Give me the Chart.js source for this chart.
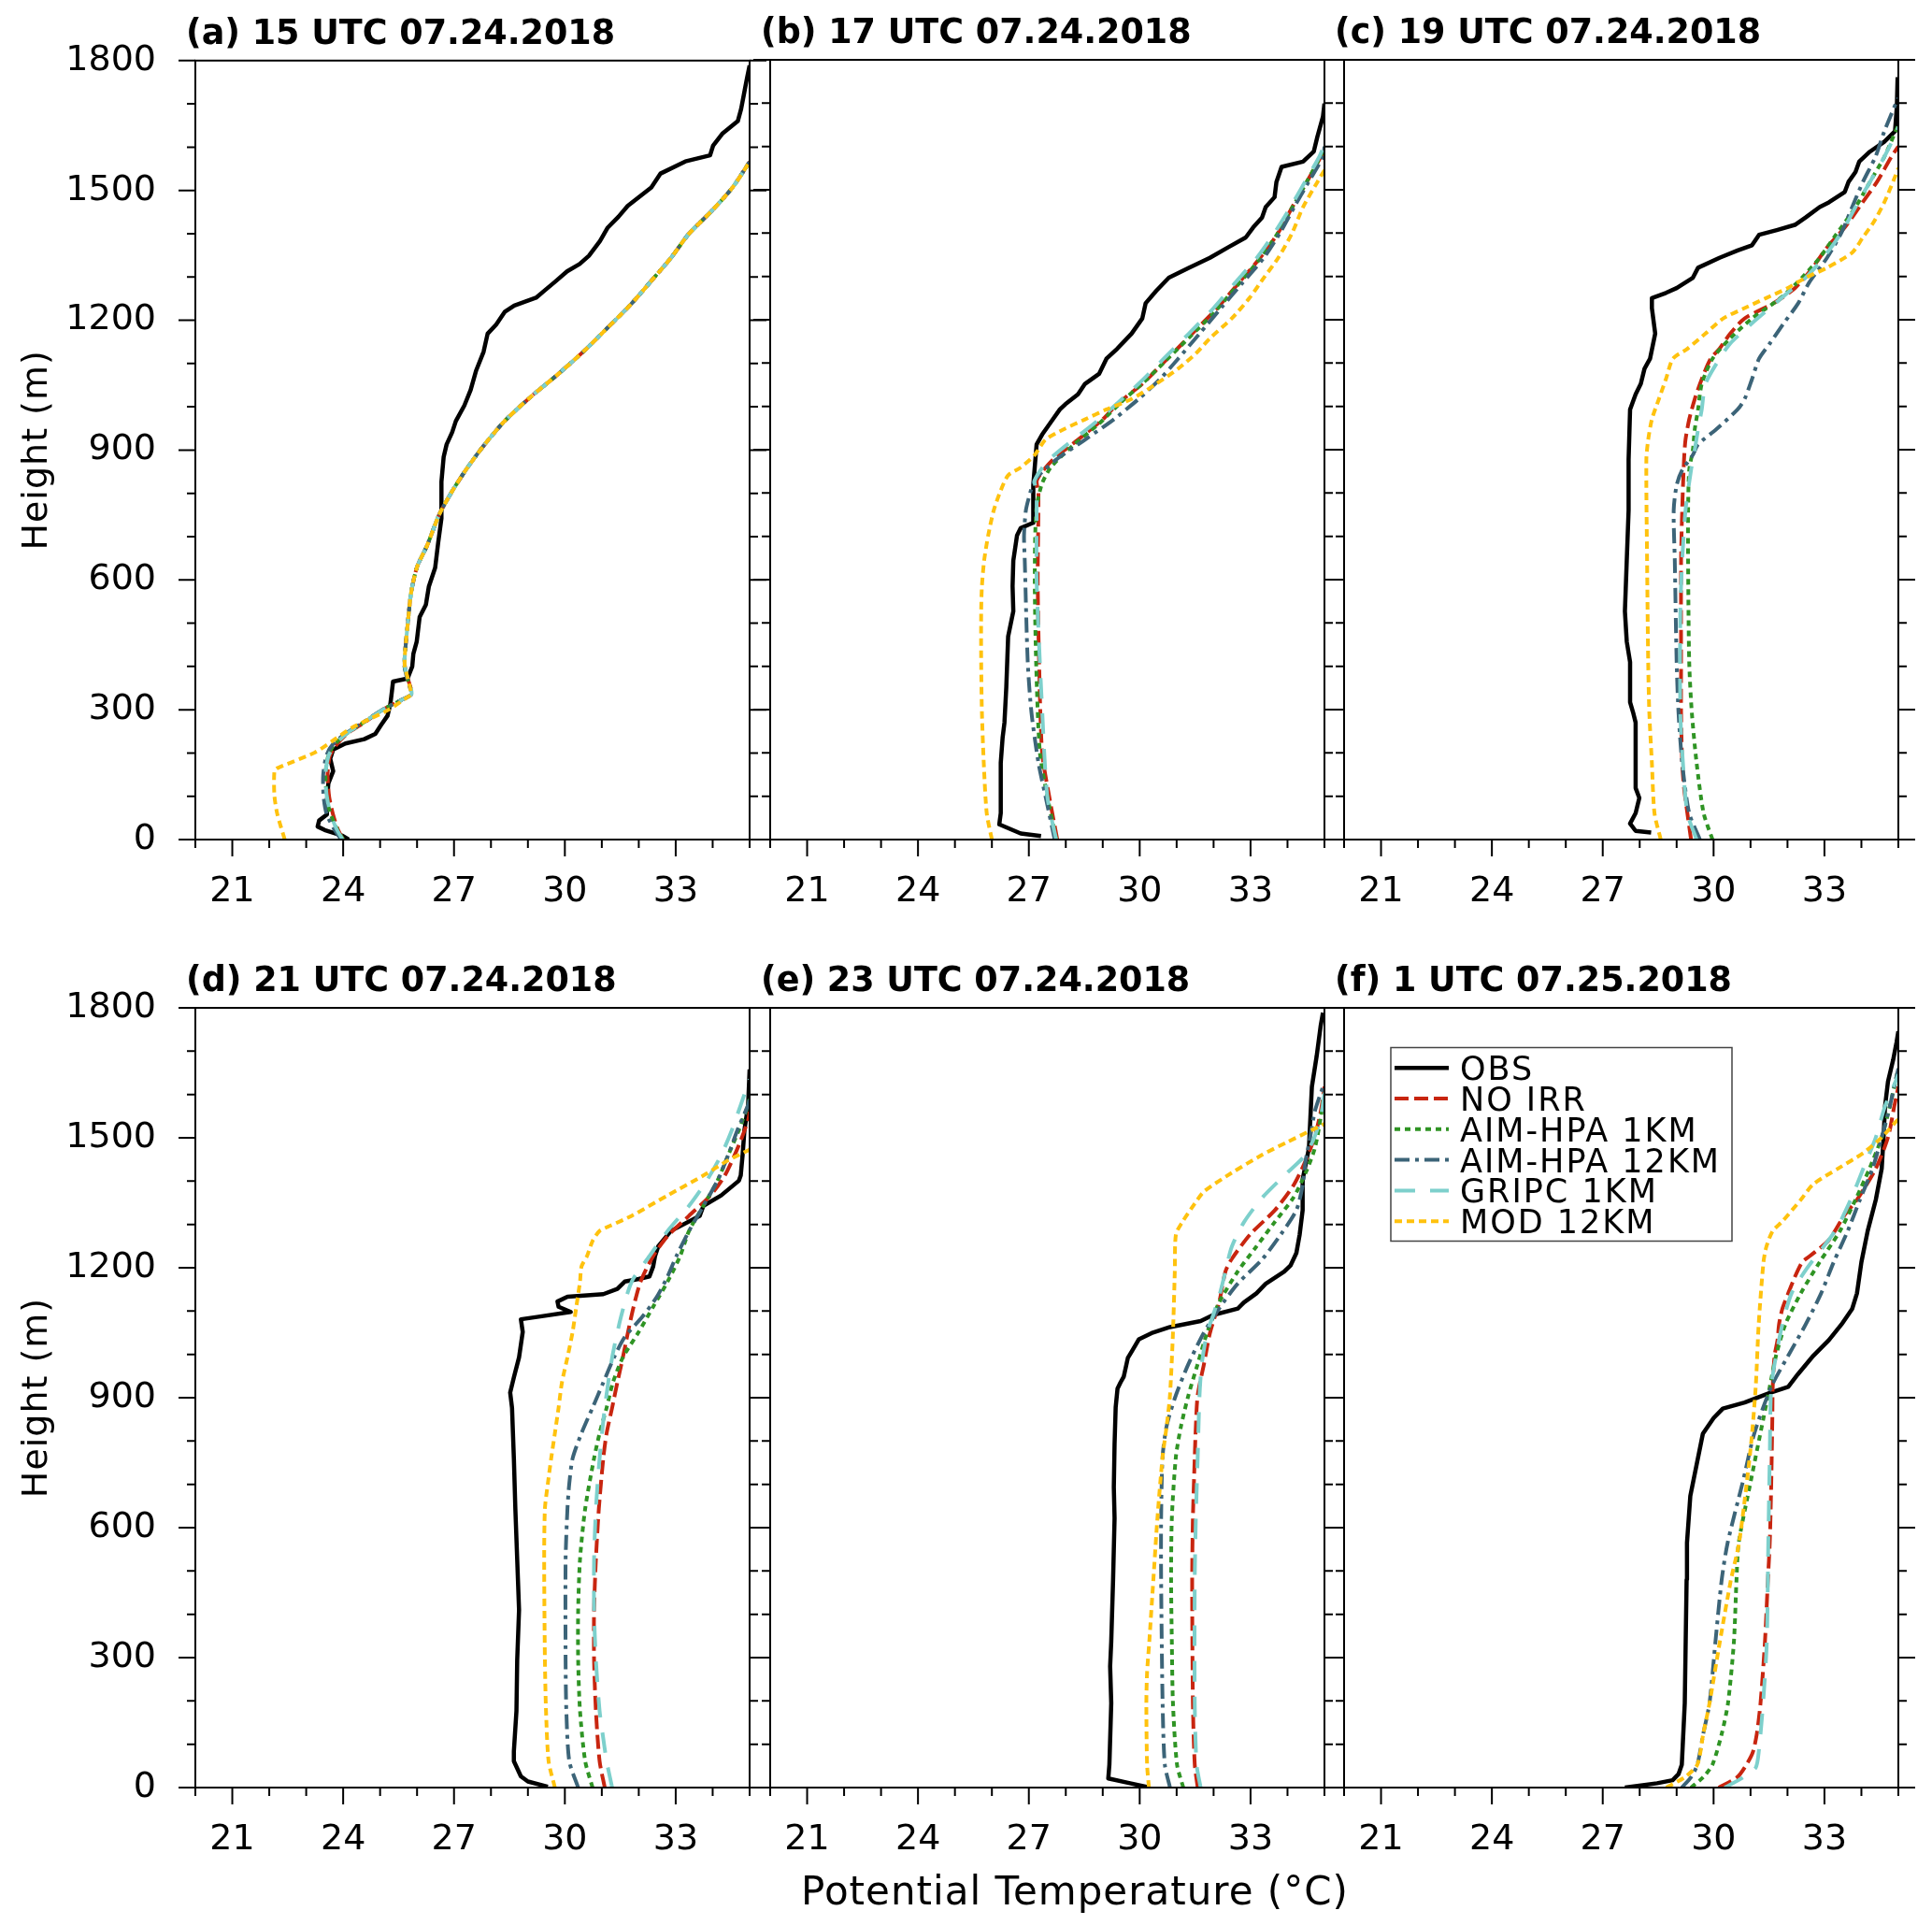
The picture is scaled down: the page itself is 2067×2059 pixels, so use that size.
<!DOCTYPE html>
<html><head><meta charset="utf-8">
<script src="https://cdn.jsdelivr.net/npm/chart.js@4.4.1/dist/chart.umd.min.js"></script>
<style>
html,body{margin:0;padding:0;background:#fff;}
#wrap{position:relative;width:2067px;height:2059px;overflow:hidden;background:#fff;}
#wrap canvas{position:absolute;left:0;top:0;}
</style></head><body><div id="wrap"></div>
<script>
// ---------- labels ----------
const seriesNames = ['OBS','NO IRR','AIM-HPA 1KM','AIM-HPA 12KM','GRIPC 1KM','MOD 12KM'];
const panelTitles = ['(a) 15 UTC 07.24.2018','(b) 17 UTC 07.24.2018','(c) 19 UTC 07.24.2018',
                     '(d) 21 UTC 07.24.2018','(e) 23 UTC 07.24.2018','(f) 1 UTC 07.25.2018'];
const xTickValues = [21,24,27,30,33];
const yTickValues = [0,300,600,900,1200,1500,1800];
const xTitle = 'Potential Temperature (\u00B0C)';
const yTitle = 'Height (m)';

// ---------- data: [potential temperature (°C), height (m)] ----------
// (a) 15 UTC
const a_OBS = [[24.15,0],[23.98,9],[23.5,22],[23.31,30],[23.35,44],[23.56,58],[23.56,87],[23.6,130],[23.73,158],[23.65,187],[23.73,208],[24.06,222],[24.57,232],[24.87,244],[25.03,265],[25.2,286],[25.28,315],[25.32,343],[25.35,365],[25.74,372],[25.87,400],[25.9,429],[25.99,457],[26.07,514],[26.24,543],[26.32,585],[26.49,628],[26.57,685],[26.66,742],[26.66,827],[26.72,884],[26.8,913],[26.95,941],[27.05,967],[27.28,1003],[27.45,1039],[27.6,1084],[27.8,1127],[27.91,1169],[28.14,1190],[28.37,1219],[28.63,1234],[29.22,1252],[29.47,1270],[29.75,1290],[30.06,1313],[30.4,1330],[30.65,1349],[30.95,1383],[31.16,1414],[31.45,1439],[31.7,1464],[32.34,1507],[32.59,1539],[33.26,1567],[33.93,1581],[34.01,1603],[34.26,1631],[34.68,1660],[34.77,1688],[34.85,1724],[34.93,1760],[35.0,1789]];
const a_NOIRR = [[24.0,0],[23.85,25],[23.72,60],[23.62,100],[23.58,150],[23.63,190],[23.78,215],[24.1,244],[24.6,272],[25.07,300],[25.57,322],[25.85,336],[25.75,372],[25.67,400],[25.67,427],[25.75,500],[25.84,571],[26.0,630],[26.27,679],[26.6,751],[26.95,805],[27.36,859],[27.83,913],[28.37,967],[29.05,1021],[29.81,1075],[30.52,1129],[31.16,1183],[31.79,1237],[32.34,1291],[32.88,1345],[33.35,1399],[33.98,1453],[34.53,1506],[35.0,1566]];
const a_AIM1 = [[24.0,0],[23.8,30],[23.62,70],[23.55,110],[23.52,150],[23.6,195],[23.75,218],[24.08,244],[24.58,272],[25.07,300],[25.57,322],[25.84,336],[25.74,372],[25.66,400],[25.67,427],[25.75,500],[25.84,571],[26.0,630],[26.27,679],[26.6,751],[26.95,805],[27.36,859],[27.83,913],[28.37,967],[29.05,1021],[29.81,1075],[30.52,1129],[31.16,1183],[31.79,1237],[32.34,1291],[32.88,1345],[33.35,1399],[33.98,1453],[34.53,1506],[35.0,1566]];
const a_AIM12 = [[23.95,0],[23.75,25],[23.55,60],[23.47,100],[23.46,150],[23.55,195],[23.72,220],[24.05,244],[24.56,272],[25.06,300],[25.56,322],[25.83,336],[25.73,372],[25.66,400],[25.67,427],[25.75,500],[25.84,571],[26.0,630],[26.27,679],[26.6,751],[26.95,805],[27.36,859],[27.83,913],[28.37,967],[29.05,1021],[29.81,1075],[30.52,1129],[31.16,1183],[31.79,1237],[32.34,1291],[32.88,1345],[33.35,1399],[33.98,1453],[34.53,1506],[35.0,1566]];
const a_GRIPC = [[23.98,0],[23.8,28],[23.64,65],[23.55,105],[23.52,150],[23.6,192],[23.76,217],[24.08,244],[24.58,272],[25.07,300],[25.57,322],[25.85,336],[25.75,372],[25.67,400],[25.67,427],[25.75,500],[25.84,571],[26.0,630],[26.27,679],[26.6,751],[26.95,805],[27.36,859],[27.83,913],[28.37,967],[29.05,1021],[29.81,1075],[30.52,1129],[31.16,1183],[31.79,1237],[32.34,1291],[32.88,1345],[33.35,1399],[33.98,1453],[34.53,1506],[35.0,1566]];
const a_MOD = [[22.42,0],[22.22,58],[22.14,101],[22.14,158],[22.22,165],[23.23,201],[23.73,229],[24.23,258],[24.73,279],[25.23,300],[25.74,329],[25.84,336],[25.75,372],[25.67,400],[25.67,427],[25.75,500],[25.84,571],[26.0,630],[26.27,679],[26.6,751],[26.95,805],[27.36,859],[27.83,913],[28.37,967],[29.05,1021],[29.81,1075],[30.52,1129],[31.16,1183],[31.79,1237],[32.34,1291],[32.88,1345],[33.35,1399],[33.98,1453],[34.53,1506],[35.0,1566]];

// (b) 17 UTC
const b_OBS = [[27.33,8],[26.78,14],[26.2,35],[26.24,61],[26.24,177],[26.29,235],[26.34,270],[26.39,352],[26.44,469],[26.58,527],[26.56,585],[26.58,644],[26.68,702],[26.78,719],[27.11,731],[27.11,760],[27.13,818],[27.21,912],[27.36,935],[27.65,970],[27.84,993],[27.99,1005],[28.33,1028],[28.52,1052],[28.9,1075],[29.1,1110],[29.39,1133],[29.78,1168],[30.07,1203],[30.16,1238],[30.45,1267],[30.79,1297],[31.33,1320],[31.9,1343],[32.39,1367],[32.87,1390],[33.07,1413],[33.31,1436],[33.41,1460],[33.65,1483],[33.7,1518],[33.84,1553],[34.42,1565],[34.71,1588],[34.81,1623],[34.96,1669],[35.0,1699]];
const b_NOIRR = [[27.77,0],[27.55,100],[27.36,200],[27.28,400],[27.24,600],[27.26,800],[27.22,830],[27.65,877],[28.33,923],[29.0,970],[29.39,1005],[30.07,1052],[30.75,1110],[31.42,1168],[32.1,1227],[32.68,1285],[33.26,1343],[33.75,1401],[34.13,1460],[34.52,1518],[34.9,1576],[35.0,1595]];
const b_AIM1 = [[27.74,0],[27.5,100],[27.3,200],[27.2,400],[27.16,600],[27.2,760],[27.35,820],[27.6,860],[28.2,910],[28.9,960],[29.5,1010],[30.1,1055],[30.7,1105],[31.35,1160],[32.0,1215],[32.6,1275],[33.2,1335],[33.7,1395],[34.1,1455],[34.5,1515],[34.88,1575],[35.0,1600]];
const b_AIM12 = [[27.7,0],[27.45,100],[27.26,177],[27.07,294],[26.97,410],[26.89,644],[26.87,702],[26.92,760],[27.02,795],[27.16,830],[27.74,877],[28.52,923],[29.3,970],[29.97,1017],[30.55,1063],[31.04,1110],[31.62,1168],[32.2,1227],[32.78,1285],[33.36,1343],[33.8,1401],[34.18,1460],[34.57,1518],[34.96,1576],[35.0,1600]];
const b_GRIPC = [[27.74,0],[27.5,100],[27.36,300],[27.21,600],[27.21,800],[27.16,830],[27.55,877],[28.9,970],[29.97,1052],[30.65,1110],[31.33,1168],[32.0,1227],[32.58,1285],[33.17,1343],[33.65,1401],[34.08,1460],[34.47,1518],[34.86,1576],[35.0,1605]];
const b_MOD = [[26.0,0],[25.86,61],[25.78,177],[25.73,294],[25.71,410],[25.71,527],[25.73,585],[25.79,644],[25.9,702],[26.05,760],[26.24,806],[26.44,841],[26.78,859],[27.16,888],[27.45,923],[27.94,947],[28.52,970],[29.1,993],[29.78,1017],[30.45,1052],[31.04,1087],[31.52,1122],[31.9,1157],[32.49,1203],[32.97,1250],[33.36,1297],[33.75,1343],[34.13,1401],[34.42,1460],[34.81,1518],[35.0,1545]];

// (c) 19 UTC
const c_OBS = [[28.31,16],[27.89,20],[27.74,37],[27.89,61],[27.99,96],[27.89,119],[27.89,177],[27.89,270],[27.82,294],[27.74,317],[27.74,410],[27.65,457],[27.6,527],[27.65,644],[27.7,760],[27.7,877],[27.74,993],[27.89,1028],[28.03,1052],[28.13,1087],[28.28,1110],[28.42,1168],[28.33,1227],[28.33,1250],[28.71,1262],[29.0,1273],[29.44,1297],[29.58,1320],[30.16,1343],[30.65,1360],[31.04,1372],[31.23,1396],[31.71,1407],[32.2,1419],[32.49,1436],[32.87,1460],[33.12,1471],[33.55,1495],[33.65,1518],[33.84,1541],[33.94,1565],[34.23,1588],[34.62,1611],[34.91,1635],[34.96,1693],[34.98,1760]];
const c_NOIRR = [[29.39,0],[29.29,61],[29.2,119],[29.15,177],[29.12,294],[29.12,410],[29.12,644],[29.15,760],[29.2,877],[29.24,923],[29.34,970],[29.49,1017],[29.68,1063],[29.92,1110],[30.16,1133],[30.45,1168],[30.84,1203],[31.62,1238],[32.2,1273],[32.68,1320],[33.07,1367],[33.55,1413],[33.94,1460],[34.42,1518],[34.81,1576],[35.0,1600]];
const c_AIM1 = [[29.97,0],[29.73,61],[29.54,177],[29.41,294],[29.34,410],[29.31,644],[29.31,760],[29.34,853],[29.44,900],[29.49,947],[29.58,993],[29.68,1052],[29.97,1110],[30.45,1157],[31.04,1203],[31.81,1250],[32.39,1297],[32.87,1343],[33.26,1390],[33.84,1460],[34.23,1518],[34.62,1576],[35.0,1650]];
const c_AIM12 = [[29.63,0],[29.34,61],[29.15,177],[29.05,294],[29.0,410],[28.95,644],[28.92,760],[29.0,818],[29.15,853],[29.44,888],[29.58,912],[30.07,947],[30.65,993],[30.84,1017],[31.04,1063],[31.23,1110],[31.52,1145],[31.9,1192],[32.29,1238],[32.58,1285],[33.07,1343],[33.46,1401],[33.75,1460],[34.04,1518],[34.38,1576],[34.62,1635],[34.96,1705],[35.0,1712]];
const c_GRIPC = [[29.54,0],[29.29,61],[29.17,177],[29.1,294],[29.1,527],[29.15,644],[29.24,760],[29.39,853],[29.49,900],[29.58,947],[29.68,993],[29.78,1052],[30.16,1110],[30.45,1145],[31.04,1192],[31.52,1227],[32.0,1262],[32.49,1297],[32.97,1343],[33.46,1401],[33.84,1460],[34.23,1518],[34.62,1576],[34.96,1635],[35.0,1645]];
const c_MOD = [[28.57,0],[28.4,61],[28.33,177],[28.26,294],[28.23,410],[28.2,644],[28.18,877],[28.23,923],[28.33,970],[28.52,1017],[28.71,1063],[28.9,1110],[29.29,1133],[29.78,1168],[30.26,1203],[30.84,1227],[31.42,1250],[32.0,1273],[32.49,1297],[33.07,1320],[33.75,1355],[34.04,1390],[34.33,1425],[34.62,1471],[34.91,1530],[35.0,1550]];

// (d) 21 UTC
const d_OBS = [[29.54,2],[29.0,14],[28.81,26],[28.62,61],[28.62,84],[28.69,177],[28.71,294],[28.76,410],[28.71,527],[28.66,644],[28.62,760],[28.57,877],[28.52,912],[28.62,947],[28.76,993],[28.86,1052],[28.81,1081],[29.29,1087],[30.16,1098],[29.83,1110],[29.8,1122],[30.07,1133],[31.04,1139],[31.42,1151],[31.62,1168],[32.0,1174],[32.29,1180],[32.39,1203],[32.44,1227],[32.53,1250],[32.87,1285],[33.65,1320],[33.75,1343],[34.23,1367],[34.71,1401],[34.76,1413],[34.81,1460],[34.86,1518],[34.96,1576],[35.0,1658]];
const d_NOIRR = [[31.08,0],[30.94,61],[30.84,177],[30.79,294],[30.79,410],[30.84,527],[30.92,644],[31.04,760],[31.13,818],[31.28,877],[31.42,935],[31.57,993],[31.71,1052],[31.86,1110],[32.05,1168],[32.39,1227],[32.78,1273],[33.36,1320],[33.94,1367],[34.33,1413],[34.71,1483],[34.96,1541],[35.0,1560]];
const d_AIM1 = [[30.75,0],[30.55,61],[30.41,177],[30.36,294],[30.36,410],[30.41,527],[30.55,644],[30.79,760],[30.94,818],[31.13,877],[31.3,935],[31.57,993],[32.0,1052],[32.39,1110],[32.78,1168],[33.12,1227],[33.36,1285],[33.75,1343],[34.13,1401],[34.42,1460],[34.71,1518],[34.96,1576],[35.0,1590]];
const d_AIM12 = [[30.36,0],[30.12,61],[30.04,177],[30.02,294],[30.02,527],[30.07,644],[30.12,702],[30.21,760],[30.45,818],[30.75,877],[31.04,935],[31.33,993],[31.62,1040],[32.1,1087],[32.49,1133],[32.78,1180],[33.02,1227],[33.36,1285],[33.75,1343],[34.13,1401],[34.42,1460],[34.67,1518],[34.96,1576],[35.0,1590]];
const d_GRIPC = [[31.28,0],[31.13,61],[31.03,119],[30.94,177],[30.84,294],[30.79,410],[30.79,527],[30.84,644],[30.94,760],[31.08,877],[31.28,993],[31.52,1087],[31.81,1168],[32.29,1227],[32.78,1285],[33.36,1343],[33.84,1401],[34.23,1460],[34.52,1518],[34.76,1576],[35.0,1635]];
const d_MOD = [[29.73,0],[29.56,61],[29.49,177],[29.46,294],[29.44,527],[29.46,644],[29.54,702],[29.63,760],[29.73,818],[29.83,877],[29.92,935],[30.07,993],[30.21,1052],[30.31,1110],[30.41,1168],[30.45,1203],[30.6,1227],[30.75,1262],[30.94,1285],[31.23,1297],[31.81,1320],[32.78,1367],[33.75,1413],[34.42,1448],[34.96,1471],[35.0,1473]];

// (e) 23 UTC
const e_OBS = [[30.27,0],[29.74,10],[29.15,21],[29.18,53],[29.23,195],[29.2,280],[29.23,337],[29.28,480],[29.32,622],[29.3,693],[29.32,793],[29.35,878],[29.4,921],[29.48,935],[29.57,949],[29.68,992],[29.78,1006],[29.98,1035],[30.32,1049],[30.82,1063],[31.65,1077],[31.99,1091],[32.66,1106],[32.82,1120],[33.16,1141],[33.41,1163],[33.91,1191],[34.08,1205],[34.24,1234],[34.33,1277],[34.41,1333],[34.41,1404],[34.58,1476],[34.62,1547],[34.66,1618],[34.79,1689],[34.9,1760],[34.96,1789]];
const e_NOIRR = [[31.57,0],[31.49,53],[31.44,195],[31.42,480],[31.44,622],[31.49,764],[31.52,835],[31.57,906],[31.74,978],[31.9,1049],[32.15,1120],[32.32,1191],[32.49,1220],[32.99,1277],[33.66,1333],[34.16,1390],[34.49,1447],[34.74,1504],[34.9,1561],[35.0,1618]];
const e_AIM1 = [[31.18,0],[31.01,53],[30.9,195],[30.87,337],[30.85,480],[30.87,622],[30.98,764],[31.12,835],[31.32,906],[31.57,978],[31.82,1049],[32.15,1120],[32.65,1191],[33.15,1248],[33.65,1305],[34.16,1362],[34.49,1419],[34.74,1476],[34.9,1547],[35.0,1604]];
const e_AIM12 = [[30.82,0],[30.68,53],[30.62,195],[30.58,480],[30.58,622],[30.62,764],[30.73,835],[30.98,906],[31.32,978],[31.73,1049],[32.15,1106],[32.65,1163],[33.32,1220],[33.82,1277],[34.24,1333],[34.41,1390],[34.49,1447],[34.62,1504],[34.74,1561],[34.96,1618]];
const e_GRIPC = [[31.65,0],[31.54,53],[31.49,195],[31.49,480],[31.52,622],[31.57,764],[31.62,906],[31.68,978],[31.82,1049],[31.99,1091],[32.15,1134],[32.32,1191],[32.49,1248],[32.82,1305],[33.32,1362],[33.99,1419],[34.49,1461],[34.74,1504],[34.9,1547],[35.0,1604]];
const e_MOD = [[30.25,0],[30.2,53],[30.18,195],[30.2,266],[30.26,337],[30.37,480],[30.48,622],[30.62,764],[30.73,835],[30.82,906],[30.9,1049],[30.95,1191],[30.98,1277],[31.15,1305],[31.49,1348],[31.74,1376],[32.49,1419],[33.32,1461],[33.99,1490],[34.66,1518],[35.0,1532]];

// (f) 1 UTC
const f_OBS = [[27.6,0],[28.47,10],[28.89,17],[29.05,31],[29.14,53],[29.22,195],[29.27,480],[29.28,565],[29.37,673],[29.54,745],[29.71,817],[30.0,853],[30.25,875],[30.84,889],[31.52,911],[32.02,925],[32.28,954],[32.7,997],[33.12,1033],[33.46,1069],[33.75,1105],[33.88,1141],[34.0,1213],[34.17,1285],[34.39,1357],[34.55,1429],[34.6,1501],[34.64,1573],[34.72,1630],[34.86,1680],[34.95,1720],[35.0,1746]];
const f_NOIRR = [[30.14,0],[30.64,24],[30.89,53],[31.06,81],[31.17,124],[31.27,195],[31.39,337],[31.47,480],[31.52,565],[31.56,700],[31.59,853],[31.6,925],[31.65,997],[31.73,1033],[31.77,1069],[31.86,1105],[32.02,1141],[32.19,1177],[32.4,1213],[32.62,1228],[33.12,1264],[33.54,1321],[33.88,1357],[34.39,1429],[34.72,1501],[34.89,1573],[35.0,1618]];
const f_AIM1 = [[29.39,0],[29.72,24],[29.97,53],[30.22,124],[30.39,195],[30.55,337],[30.62,480],[30.68,565],[31.01,709],[31.35,853],[31.52,925],[31.69,997],[31.94,1069],[32.36,1141],[32.87,1213],[33.42,1285],[33.84,1357],[34.22,1429],[34.55,1501],[34.77,1573],[34.92,1630],[35.0,1660]];
const f_AIM12 = [[29.14,0],[29.39,24],[29.56,53],[29.72,124],[29.89,195],[30.05,337],[30.22,480],[30.38,565],[30.8,709],[31.1,817],[31.56,925],[32.02,997],[32.49,1069],[32.91,1141],[33.25,1213],[33.63,1285],[33.96,1357],[34.3,1429],[34.55,1501],[34.77,1573],[34.92,1630],[35.0,1660]];
const f_GRIPC = [[30.3,0],[30.81,24],[31.14,46],[31.22,81],[31.34,195],[31.44,337],[31.48,565],[31.52,764],[31.56,925],[31.69,997],[31.86,1069],[32.11,1141],[32.53,1199],[33.29,1285],[33.71,1357],[34.05,1429],[34.39,1501],[34.64,1573],[34.89,1623],[35.0,1646]];
const f_MOD = [[28.72,0],[29.22,24],[29.56,53],[29.72,124],[29.89,195],[30.17,337],[30.47,480],[30.69,565],[31.0,781],[31.14,925],[31.22,1069],[31.35,1213],[31.43,1249],[31.6,1285],[31.86,1307],[32.36,1357],[32.7,1393],[33.37,1429],[34.05,1465],[34.55,1501],[34.93,1537],[35.0,1542]];

const panelSeries = [
  [a_OBS,a_NOIRR,a_AIM1,a_AIM12,a_GRIPC,a_MOD],
  [b_OBS,b_NOIRR,b_AIM1,b_AIM12,b_GRIPC,b_MOD],
  [c_OBS,c_NOIRR,c_AIM1,c_AIM12,c_GRIPC,c_MOD],
  [d_OBS,d_NOIRR,d_AIM1,d_AIM12,d_GRIPC,d_MOD],
  [e_OBS,e_NOIRR,e_AIM1,e_AIM12,e_GRIPC,e_MOD],
  [f_OBS,f_NOIRR,f_AIM1,f_AIM12,f_GRIPC,f_MOD]
];

// ---------- styles ----------
const seriesColors = ['#000000','#c8250f','#2f9424','#3c6478','#7dd0cc','#ffc20e'];
const seriesWidths = [4.5,4,4,4,4,4];
const seriesDashes = [[],[15,6],[6,5],[16,6,4,6],[22,16],[8,5]];
const seriesTension = [0,0.25,0.25,0.25,0.25,0.25];

// ---------- layout ----------
const PAGE_W = 2067, PAGE_H = 2059;
const colLeft = [209,824,1438], rowTop = [64,1078];
const PW = 593, PH = 834;
const YAXIS_W = 200, XAXIS_H = 100;
const FONT = '"DejaVu Sans", "Liberation Sans", sans-serif';

const decoPlugin = {
  id: 'panelDeco',
  afterDraw(chart, args, opts) {
    const {ctx, chartArea: ca} = chart;
    const xs = chart.scales.x, ys = chart.scales.y;
    ctx.save();
    ctx.strokeStyle = '#000'; ctx.lineWidth = 2; ctx.lineCap = 'butt';
    ctx.beginPath();
    for (let v = 0; v <= 1800; v += 100) {
      const py = ys.getPixelForValue(v);
      const len = yTickValues.includes(v) ? 18 : 9;
      ctx.moveTo(ca.left, py); ctx.lineTo(ca.left - len, py);
      ctx.moveTo(ca.right, py); ctx.lineTo(ca.right + len, py);
    }
    for (let v = 20; v <= 35; v += 1) {
      const px = xs.getPixelForValue(v);
      const len = xTickValues.includes(v) ? 18 : 9;
      ctx.moveTo(px, ca.bottom); ctx.lineTo(px, ca.bottom + len);
    }
    ctx.stroke();
    ctx.strokeRect(ca.left, ca.top, ca.right - ca.left, ca.bottom - ca.top);
    ctx.fillStyle = '#000';
    ctx.font = 'bold 36.5px ' + FONT;
    ctx.textAlign = 'left'; ctx.textBaseline = 'alphabetic';
    ctx.fillText(opts.title, ca.left - 10, ca.top - 18);
    if (opts.yTitle) {
      ctx.save();
      ctx.translate(50, (ca.top + ca.bottom) / 2);
      ctx.rotate(-Math.PI / 2);
      ctx.font = '38px ' + FONT;
      ctx.textAlign = 'center';
      ctx.letterSpacing = '1px';
      ctx.fillText(yTitle, 0, 0);
      ctx.restore();
    }
    if (opts.xTitle) {
      ctx.font = '42px ' + FONT;
      ctx.textAlign = 'center';
      ctx.letterSpacing = '1px';
      ctx.fillText(xTitle, ca.left + 326, ca.bottom + 124.5);
      ctx.letterSpacing = '0px';
    }
    if (opts.legend) {
      const bx = ca.left + 50, by = ca.top + 42.5;
      ctx.fillStyle = '#fff';
      ctx.fillRect(bx, by, 365, 207);
      ctx.strokeStyle = '#444'; ctx.lineWidth = 1.5;
      ctx.strokeRect(bx, by, 365, 207);
      seriesNames.forEach((name, i) => {
        const cy = ca.top + 64.2 + i * 32.8;
        ctx.beginPath();
        ctx.setLineDash(seriesDashes[i]);
        ctx.strokeStyle = seriesColors[i]; ctx.lineWidth = seriesWidths[i];
        ctx.moveTo(ca.left + 54, cy); ctx.lineTo(ca.left + 112, cy);
        ctx.stroke();
        ctx.setLineDash([]);
        ctx.fillStyle = '#000';
        ctx.font = '35px ' + FONT;
        ctx.textAlign = 'left';
        ctx.letterSpacing = '2px';
        ctx.fillText(name, ca.left + 124, cy + 13);
        ctx.letterSpacing = '0px';
      });
    }
    ctx.restore();
  }
};

const wrap = document.getElementById('wrap');
panelSeries.forEach((series, idx) => {
  const col = idx % 3, row = Math.floor(idx / 3);
  const L = colLeft[col], T = rowTop[row];
  const canvas = document.createElement('canvas');
  canvas.width = PAGE_W; canvas.height = PAGE_H;
  canvas.style.width = PAGE_W + 'px'; canvas.style.height = PAGE_H + 'px';
  wrap.appendChild(canvas);
  new Chart(canvas, {
    type: 'line',
    data: {
      datasets: series.map((arr, i) => ({
        label: seriesNames[i],
        data: arr.map(p => ({x: p[0], y: p[1]})),
        borderColor: seriesColors[i],
        backgroundColor: seriesColors[i],
        borderWidth: seriesWidths[i],
        borderDash: seriesDashes[i],
        tension: seriesTension[i],
        order: series.length - i,
        pointRadius: 0,
        fill: false,
        borderJoinStyle: 'round'
      }))
    },
    options: {
      responsive: false,
      animation: false,
      devicePixelRatio: 1,
      events: [],
      layout: {padding: {left: L - YAXIS_W, top: T, right: PAGE_W - (L + PW), bottom: PAGE_H - (T + PH) - XAXIS_H}},
      plugins: {
        legend: {display: false},
        tooltip: {enabled: false},
        panelDeco: {title: panelTitles[idx], yTitle: col === 0, xTitle: idx === 4, legend: idx === 5}
      },
      scales: {
        x: {
          type: 'linear', min: 20, max: 35,
          afterBuildTicks: s => { s.ticks = xTickValues.map(v => ({value: v})); },
          afterFit: s => { s.height = XAXIS_H; },
          grid: {display: false, drawTicks: false},
          border: {display: false},
          ticks: {padding: 33, autoSkip: false, maxRotation: 0, color: '#000', font: {family: FONT, size: 38},
                  callback: v => String(v)}
        },
        y: {
          type: 'linear', min: 0, max: 1800,
          afterBuildTicks: s => { s.ticks = yTickValues.map(v => ({value: v})); },
          afterFit: s => { s.width = YAXIS_W; },
          grid: {display: false, drawTicks: false},
          border: {display: false},
          ticks: {display: col === 0, padding: 42, color: '#000', font: {family: FONT, size: 38},
                  callback: v => String(v)}
        }
      }
    },
    plugins: [decoPlugin]
  });
});
</script></body></html>
